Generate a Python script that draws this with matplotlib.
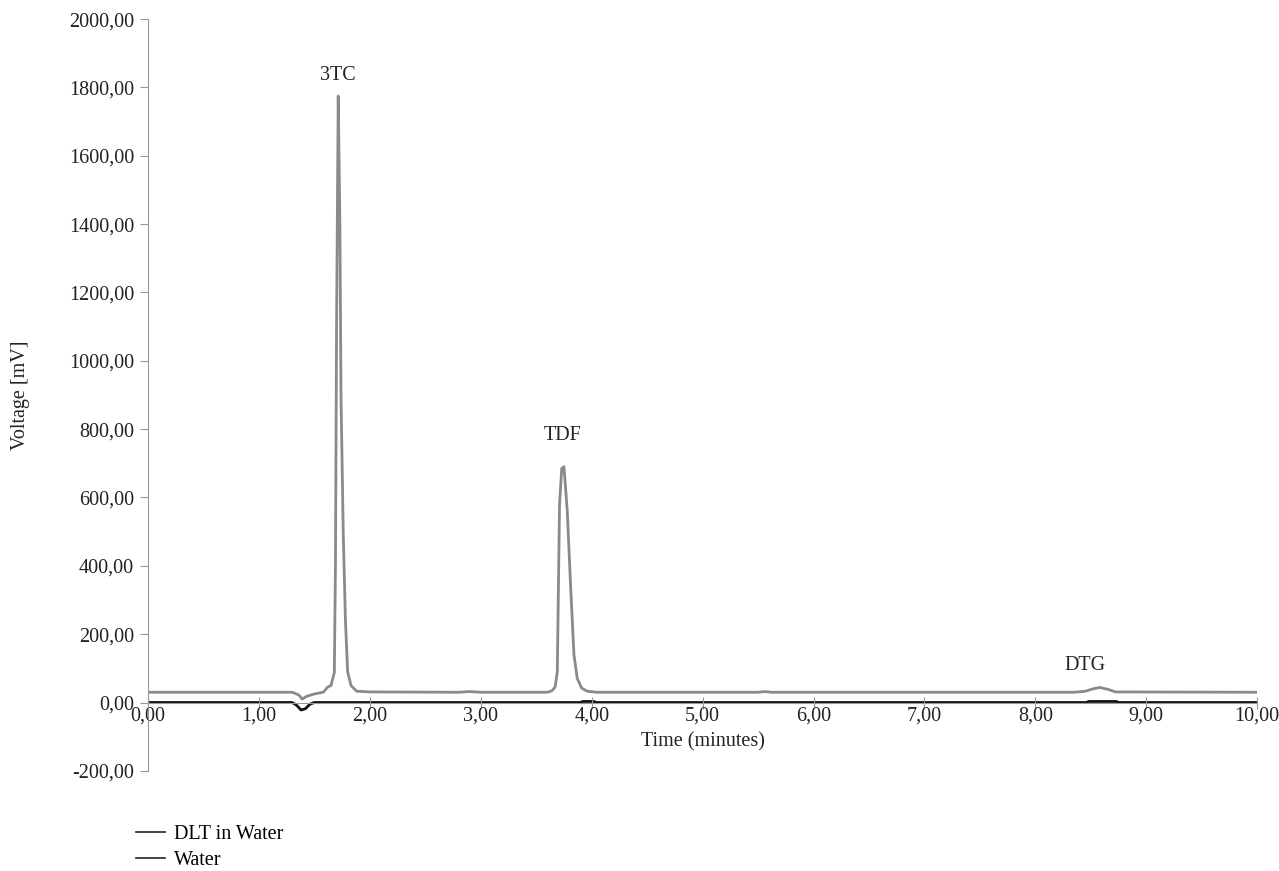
import matplotlib
matplotlib.use("Agg")
import matplotlib.pyplot as plt
from matplotlib.ticker import FuncFormatter, MultipleLocator

plt.rcParams['font.family'] = ['Liberation Serif', 'DejaVu Serif']
plt.rcParams['font.size'] = 14.5

# DLT in Water (grey trace)
t_dlt = [0.00, 1.30, 1.36, 1.39, 1.43, 1.50, 1.58, 1.62, 1.65, 1.68, 1.69,
         1.70, 1.715, 1.73, 1.74, 1.76, 1.78, 1.80, 1.83, 1.88, 2.00, 2.80,
         2.90, 3.00, 3.60, 3.64, 3.67, 3.69, 3.71, 3.73, 3.75, 3.78, 3.81,
         3.84, 3.87, 3.91, 3.96, 4.05, 5.50, 5.56, 5.62, 8.35, 8.45, 8.52,
         8.58, 8.66, 8.72, 10.00]
v_dlt = [30, 30, 22, 10, 18, 25, 30, 45, 50, 88, 400,
         1100, 1775, 1400, 900, 500, 240, 90, 50, 33, 31, 30,
         32, 30, 30, 34, 45, 90, 580, 685, 690, 560, 340,
         140, 70, 42, 33, 30, 30, 32, 30, 30, 33, 40,
         44, 38, 31, 30]

# Water (black trace)
t_water = [0.00, 1.30, 1.34, 1.38, 1.42, 1.46, 1.50, 3.90, 3.92, 4.02,
           4.04, 8.46, 8.48, 8.73, 8.75, 10.00]
v_water = [0, 0, -8, -22, -18, -5, 0, 0, 3, 3,
           0, 0, 3, 3, 0, 0]

peak_names = ['3TC', 'TDF', 'DTG']
peak_x = [1.71, 3.74, 8.45]
peak_y = [1835, 780, 108]

fig = plt.figure(figsize=(12.79, 8.71), dpi=100)
ax = fig.add_axes([0.1157, 0.115, 0.8673, 0.863])

ax.plot(t_dlt, v_dlt, color='#8a8a8a', lw=2.0, label='DLT in Water')
ax.plot(t_water, v_water, color='#111111', lw=2.0, label='Water', zorder=1)

for name, x, y in zip(peak_names, peak_x, peak_y):
    ax.text(x, y, name, ha='center', va='center', fontsize=14.5, color='#222222')

ax.set_xlim(0, 10)
ax.set_ylim(-200, 2000)
ax.xaxis.set_major_locator(MultipleLocator(1))
ax.yaxis.set_major_locator(MultipleLocator(200))
fmt = FuncFormatter(lambda v, p: f'{v:.2f}'.replace('.', ','))
ax.xaxis.set_major_formatter(fmt)
ax.yaxis.set_major_formatter(fmt)

ax.spines['top'].set_visible(False)
ax.spines['right'].set_visible(False)
ax.spines['bottom'].set_position(('data', 0))
ax.spines['bottom'].set_color('#999999')
ax.spines['left'].set_color('#999999')
ax.tick_params(axis='x', direction='inout', length=8, color='#999999',
               labelsize=14.5, pad=-1, labelcolor='#222222')
ax.tick_params(axis='y', direction='out', length=6, color='#999999',
               labelsize=14.5, pad=4, labelcolor='#222222')

ax.set_xlabel('Time (minutes)', fontsize=14.5, color='#222222')
ax.xaxis.set_label_coords(0.5, 0.052)
ax.set_ylabel('Voltage [mV]', fontsize=14.5, color='#222222')
ax.yaxis.set_label_coords(-0.106, 0.5)

leg = fig.legend(loc='upper left', bbox_to_anchor=(0.1, 0.062), frameon=False,
                 fontsize=14.5, handlelength=1.45, handletextpad=0.45,
                 labelspacing=0.35, borderaxespad=0)
for ln in leg.get_lines():
    ln.set_color('#222222')
    ln.set_linewidth(1.2)

fig.savefig('out.png', dpi=100)
